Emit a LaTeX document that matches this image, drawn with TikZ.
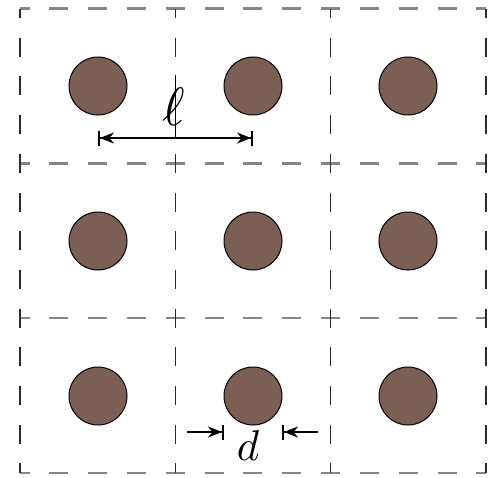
\documentclass[tikz,border=0pt]{standalone}
\usetikzlibrary{arrows.meta,calc}
\definecolor{rodfill}{HTML}{7b5f54}
\definecolor{gridgray}{HTML}{858585}
\definecolor{gridink}{HTML}{2b2b2b}
\tikzset{
  hline/.style={draw=gridgray,line width=2.4pt,dash pattern=on 19pt off 19.83pt,dash phase=9.5pt},
  vline/.style={draw=gridink,line width=1.3pt,dash pattern=on 19pt off 19.7pt,dash phase=9.5pt},
  rodnode/.style={circle,draw=black,line width=1pt,fill=rodfill,minimum size=58pt,inner sep=0pt,outer sep=0pt},
  dimarr/.style={{Bar[width=15pt]Stealth[length=14pt,width=11pt]}-{Stealth[length=14pt,width=11pt]Bar[width=15pt]},line width=2pt},
  darr/.style={-{Stealth[length=14pt,width=11pt]Bar[width=15pt]},line width=2pt},
  lab/.style={inner sep=0pt,transform shape=false},
}
\begin{document}
\begin{tikzpicture}[x=1pt,y=-1pt]
\useasboundingbox (0,0) rectangle (489,477);
% grid
\foreach \y in {8.5,163.3,318.2,473} \draw[hline] (20,\y) -- (486,\y);
\foreach \x in {20,175.3,330.7,486} \draw[vline] (\x,8.5) -- (\x,473);
% rods
\foreach \i/\y in {1/86,2/241,3/396}
  \foreach \j/\x in {1/98,2/253,3/408}
    \node[rodnode] (c\i\j) at (\x,\y) {};
% spacing l
\coordinate (la) at ($(c11.center)+(0,52)$);
\coordinate (lb) at ($(c12.center)+(0,52)$);
\coordinate (lt) at (175.5,75);
\draw[line width=0.8pt] (lt) -- (lt |- la);
\draw[dimarr] (la) -- (lb);
\node[lab,scale=5.4] (ell) at (174,107) {$\ell$};
% diameter d
\coordinate (dl) at (187,432);
\coordinate (dr) at (318,432);
\draw[darr] (dl) -- (c32.west |- dl);
\draw[darr] (dr) -- (c32.east |- dr);
\node[lab,scale=4.3] (dlab) at (248,446) {$d$};
\end{tikzpicture}
\end{document}
